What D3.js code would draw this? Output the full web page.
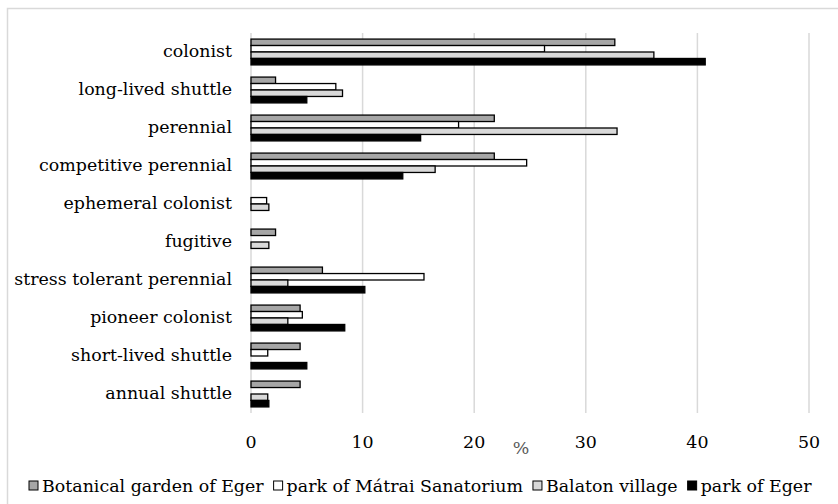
<!DOCTYPE html>
<html>
<head>
<meta charset="utf-8">
<script src="https://cdn.jsdelivr.net/npm/d3@7"></script>
<style>
  body { margin: 0; background: #fff; }
  text { font-family: "DejaVu Serif", "Liberation Serif", serif; }
</style>
</head>
<body>
<svg id="chart"></svg>
<script>
// Life-strategy categories (top to bottom)
const categories = [
  "colonist", "long-lived shuttle", "perennial", "competitive perennial",
  "ephemeral colonist", "fugitive", "stress tolerant perennial",
  "pioneer colonist", "short-lived shuttle", "annual shuttle"
];
const seriesNames = ["Botanical garden of Eger", "park of Mátrai Sanatorium", "Balaton village", "park of Eger"];

// values in %
const botanicalGarden = [32.6, 2.2, 21.8, 21.8, 0, 2.2, 6.4, 4.4, 4.4, 4.4];
const matraiPark      = [26.3, 7.6, 18.6, 24.7, 1.4, 0, 15.5, 4.6, 1.5, 0];
const balatonVillage  = [36.1, 8.2, 32.8, 16.5, 1.6, 1.6, 3.3, 3.3, 0, 1.5];
const egerPark        = [40.7, 5.0, 15.2, 13.6, 0, 0, 10.2, 8.4, 5.0, 1.6];
const xTicks = [0, 10, 20, 30, 40, 50];

const seriesValues = [botanicalGarden, matraiPark, balatonVillage, egerPark];
const fills = ["#a6a6a6", "#ffffff", "#d9d9d9", "#000000"];

const W = 838, H = 504;
const margin = { top: 33, right: 29, bottom: 91, left: 251 };
const width = W - margin.left - margin.right;
const height = H - margin.top - margin.bottom;

const svg = d3.select("#chart").attr("width", W).attr("height", H);

// pick a font size so the longest label is as wide as in the original
const probe = svg.append("text").attr("font-size", 16).text("stress tolerant perennial");
const fontSize = 16 * 218 / probe.node().getComputedTextLength();
probe.remove();

// outer chart border (right and bottom edges fall outside the picture)
svg.append("rect")
  .attr("x", 7.5).attr("y", 8.5)
  .attr("width", W).attr("height", H)
  .attr("fill", "none").attr("stroke", "#d9d9d9").attr("stroke-width", 1.5);

const g = svg.append("g").attr("transform", `translate(${margin.left},${margin.top})`);

const x = d3.scaleLinear().domain([0, 50]).range([0, width]);
const y = d3.scaleBand().domain(categories).range([0, height]).paddingInner(0.32).paddingOuter(0.16);
const ySub = d3.scaleBand().domain(d3.range(4)).range([0, y.bandwidth()]);

// gridlines
g.selectAll(".grid")
  .data(xTicks)
  .enter().append("line")
  .attr("x1", d => x(d)).attr("x2", d => x(d))
  .attr("y1", 0).attr("y2", height)
  .attr("stroke", "#d9d9d9").attr("stroke-width", 1.5);

// x tick labels
g.selectAll(".xlab")
  .data(xTicks)
  .enter().append("text")
  .attr("x", d => x(d)).attr("y", height + 35)
  .attr("text-anchor", "middle")
  .attr("font-size", fontSize).attr("fill", "#000")
  .text(d => d);

// axis title
g.append("text")
  .attr("x", x(24.2)).attr("y", height + 41)
  .attr("text-anchor", "middle")
  .attr("font-size", fontSize).attr("fill", "#595959")
  .text("%");

// category labels
g.selectAll(".ylab")
  .data(categories)
  .enter().append("text")
  .attr("x", -19).attr("y", d => y(d) + y.bandwidth() / 2 + 5)
  .attr("text-anchor", "end")
  .attr("font-size", fontSize).attr("fill", "#000")
  .text(d => d);

// bars
seriesValues.forEach((vals, s) => {
  g.selectAll(".bar" + s)
    .data(categories.map((c, i) => ({ c, v: vals[i] })).filter(d => d.v > 0))
    .enter().append("rect")
    .attr("x", 0)
    .attr("y", d => y(d.c) + ySub(s))
    .attr("width", d => x(d.v))
    .attr("height", ySub.bandwidth())
    .attr("fill", fills[s])
    .attr("stroke", "#000").attr("stroke-width", 1.3);
});

// legend, laid out left to right
const lg = svg.append("g");
let lx = 29;
seriesNames.forEach((name, s) => {
  lg.append("rect")
    .attr("x", lx).attr("y", 481)
    .attr("width", 9).attr("height", 9)
    .attr("fill", fills[s]).attr("stroke", "#000").attr("stroke-width", 1);
  const t = lg.append("text")
    .attr("x", lx + 13).attr("y", 492)
    .attr("font-size", fontSize).attr("fill", "#000")
    .text(name);
  lx += 13 + t.node().getComputedTextLength() + 10;
});
</script>
</body>
</html>
